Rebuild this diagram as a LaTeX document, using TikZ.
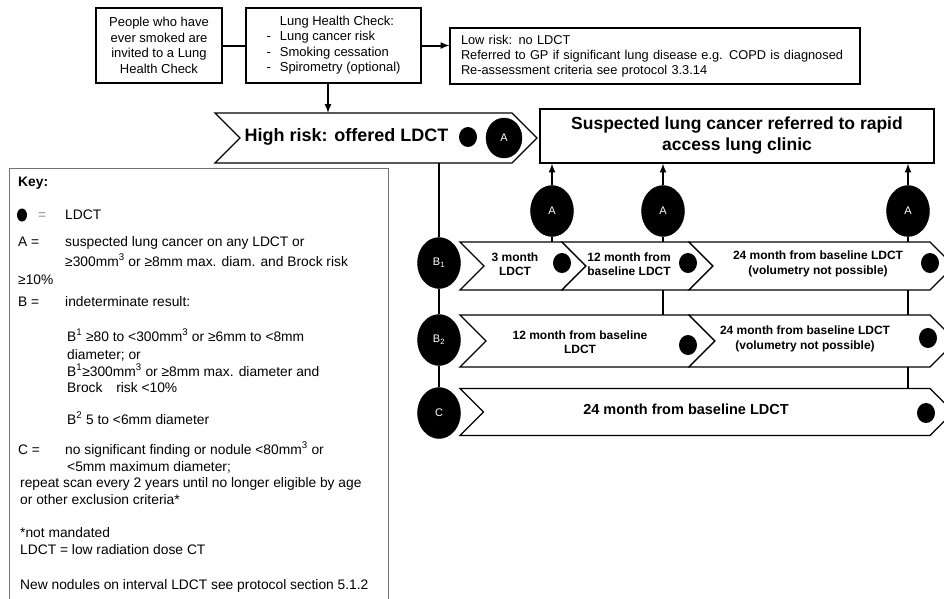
\documentclass[tikz,border=0pt]{standalone}
\usepackage{fontspec}
\setmainfont{Liberation Sans}
\usepackage{tikz}
\usetikzlibrary{positioning}
\usetikzlibrary{arrows,shapes}
\usetikzlibrary{calc}
\tikzstyle{infobox}=[rectangle,draw,line width=1.2pt,align=center,inner sep=0pt,font=\fontsize{13}{15.5}\selectfont]
\tikzstyle{keybox}=[rectangle,draw=black!55,line width=0.9pt,inner sep=0pt]
\tikzstyle{bigvertex}=[ellipse,fill=black,draw,text=white,minimum width=43pt,minimum height=51pt,inner sep=0pt,font=\fontsize{11}{13}\selectfont]
\tikzstyle{dot}=[ellipse,fill=black,minimum width=18pt,minimum height=20pt,inner sep=0pt]
\tikzstyle{chevron}=[draw,line width=1.3pt,fill=white]
\tikzstyle{flowarrow}=[draw,line width=2pt,-latex]
\tikzstyle{undirectededge}=[draw,line width=2pt]
\tikzstyle{rowtext}=[align=center,inner sep=0pt,font=\bfseries\fontsize{12}{14.5}\selectfont]
\tikzstyle{keytext}=[anchor=base west,inner sep=0pt,font=\fontsize{13.8}{16}\selectfont]

\begin{document}
\begin{tikzpicture}[x=1pt,y=-1pt,auto,swap]
 \useasboundingbox (0,0) rectangle (944,598);
 \clip (0,0) rectangle (944,598);

 %Top row
 \node[infobox,minimum width=126pt,minimum height=75pt] (invite) at (159,45.5)
   {People who have\\ever smoked are\\invited to a Lung\\Health Check};
 \node[infobox,minimum width=175pt,minimum height=75pt] (check) at (333.5,45.5)
   {\begin{tabular}{@{}l@{\hspace{9pt}}l@{}}
     & Lung Health  Check:\\
    - & Lung cancer risk\\
    - & Smoking cessation\\
    - & Spirometry (optional)
   \end{tabular}};
 \node[infobox,align=left,minimum width=410pt,minimum height=56pt,inner xsep=11pt,text width=388pt,
       font=\fontsize{12.8}{15}\selectfont] (lowrisk) at (655,56)
   {Low risk: no LDCT\\Referred to GP if significant lung disease e.g. COPD is diagnosed\\Re-assessment  criteria see protocol 3.3.14};

 \path[undirectededge] (invite.east) -- (invite.east -| check.west);
 \path[flowarrow] (check.east) -- (check.east -| lowrisk.west);

 %High risk
 \draw[chevron] (215,113) -- (512,113) -- (537,138) -- (512,163) -- (215,163) -- (240,138) -- cycle;
 \coordinate (hightop) at (328,113);
 \coordinate (highbot) at (439,163);
 \node[inner sep=0pt,font=\bfseries\fontsize{18}{21}\selectfont] (high) at (346.5,137) {High risk: offered LDCT};
 \path[flowarrow] (hightop |- check.south) -- (hightop);

 \node[infobox,font=\bfseries\fontsize{17.5}{21}\selectfont,minimum width=394pt,minimum height=54pt] (clinic) at (737,136)
   {Suspected lung cancer referred to rapid\\access lung clinic};

 %Key
 \node[keybox,anchor=north west,minimum width=379pt,minimum height=450pt] (key) at (9,168) {};
 \node[dot,minimum width=10pt,minimum height=13pt] (keydot) at (22,215) {};
 \foreach \x/\y/\name/\label in {
     18/186/k0/{\bfseries Key:},
     38/219/k1/{\color{black!45}=}, 65/219/k2/LDCT,
     18/246/k3/{A =}, 65/246/k4/{suspected lung cancer on any LDCT or},
     65/266/k5/{≥300mm\textsuperscript{3} or ≥8mm max. diam. and Brock risk},
     18/284/k6/{≥10\%},
     18/306/k7/{B =}, 65/306/k8/{indeterminate result:},
     67/341/k9/{B\textsuperscript{1} ≥80 to <300mm\textsuperscript{3} or ≥6mm to <8mm},
     67/359/k10/{diameter; or},
     67/376/k11/{B\textsuperscript{1}≥300mm\textsuperscript{3} or ≥8mm max. diameter and},
     67/392/k12/{Brock\quad risk <10\%},
     67/424/k13/{B\textsuperscript{2} 5 to <6mm diameter},
     18/454/k14/{C =}, 65/454/k15/{no significant finding or nodule <80mm\textsuperscript{3} or},
     67/471/k16/{<5mm maximum  diameter;},
     20/487/k17/{repeat scan every 2 years until no longer eligible by age},
     20/504/k18/{or other exclusion criteria*},
     20/537/k19/{*not mandated},
     20/554/k20/{LDCT = low radiation dose CT},
     20/589/k21/{New nodules on interval LDCT see protocol section 5.1.2}}
   \node[keytext] (\name) at (\x,\y) {\label};

 %Rows B1, B2, C
 \foreach \xa/\xb/\y/\h in {460/562/266/24, 562/689/266/24, 689/930/266/24,
                            460/689/341/26, 689/930/341/26,
                            460/930/412/23.5}
   \draw[chevron] (\xa,\y-\h) -- (\xb,\y-\h) -- (\xb+\h,\y) -- (\xb,\y+\h) -- (\xa,\y+\h) -- (\xa+\h,\y) -- cycle;

 \coordinate (r1top) at (0,242);
 \coordinate (r1bot) at (0,290);
 \coordinate (r2top) at (0,315);
 \coordinate (r2bot) at (0,367);
 \coordinate (r3top) at (0,388.5);

 \foreach \x/\y/\name/\label in {515/264/t11/{3 month\\LDCT},
                                629/264/t12/{12 month from\\baseline LDCT},
                                818/264/t13/{24 month from baseline LDCT\\(volumetry not possible)},
                                580/342/t21/{12 month from baseline\\LDCT},
                                805/339/t22/{24 month from baseline LDCT\\(volumetry not possible)}}
   \node[rowtext] (\name) at (\x,\y) {\label};
 \node[rowtext,font=\bfseries\fontsize{14.5}{17}\selectfont] (t31) at (686,409) {24 month from baseline LDCT};

 \foreach \x/\y/\name in {468/137/d0, 562/263/d11, 688/263/d12, 930/263/d13,
                          688/345/d21, 928/338/d22, 926/413/d31}
   \node[dot] (\name) at (\x,\y) {};

 \node[bigvertex,minimum width=36pt,minimum height=40pt] (a0) at (504,138) {A};
 \foreach \x/\y/\name/\label in {552/211/a1/A, 663/211/a2/A, 908/211/a3/A,
                                439/263/b1/{B\textsubscript{1}}, 439/340/b2/{B\textsubscript{2}}, 439/413/cc/C}
   \node[bigvertex] (\name) at (\x,\y) {\label};

 %connectors
 \foreach \source/\dest in {highbot/b1, b1/b2, b2/cc}
   \path[undirectededge] (\source) -- (\dest);
 \foreach \name in {a1,a2,a3}
 {
   \path[flowarrow] (\name) -- (\name |- clinic.south);
   \path[undirectededge] (\name) -- (\name |- r1top);
 }
 \path[undirectededge] (a2 |- r1bot) -- (a2 |- r2top);
 \path[undirectededge] (a3 |- r1bot) -- (a3 |- r2top);
 \path[undirectededge] (a3 |- r2bot) -- (a3 |- r3top);

\end{tikzpicture}
\end{document}
